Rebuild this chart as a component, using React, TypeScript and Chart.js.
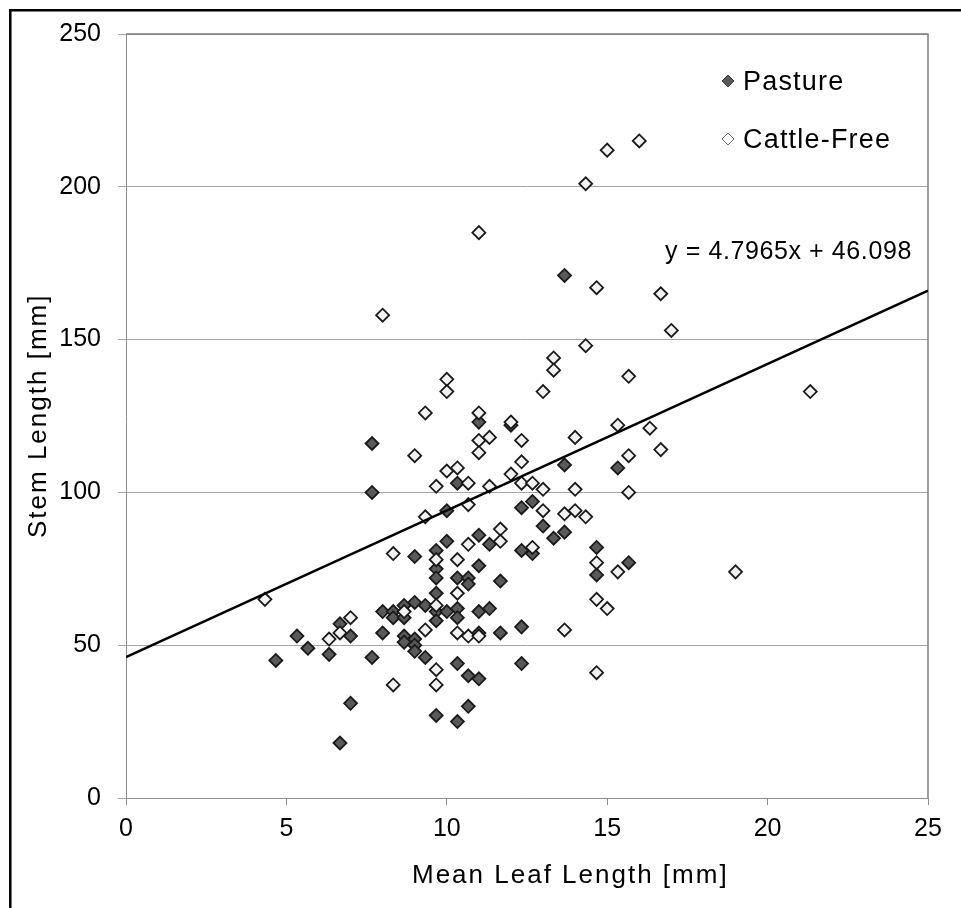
import React, { useEffect, useRef } from 'react';
import { Chart, registerables } from 'chart.js';

Chart.register(...registerables);

// ---- Data ----
const seriesNames = ['Pasture', 'Cattle-Free'];

const pastureX = [
  4.67, 5.33, 5.67, 6.33, 6.67, 6.67, 7, 7, 7.67, 7.67, 7.67, 8, 8, 8.33, 8.33,
  8.67, 8.67, 8.67, 8.67, 9, 9, 9, 9, 9, 9.33, 9.33, 9.67, 9.67, 9.67, 9.67,
  9.67, 9.67, 9.67, 10, 10, 10, 10.33, 10.33, 10.33, 10.33, 10.33, 10.33,
  10.67, 10.67, 10.67, 10.67, 11, 11, 11, 11, 11, 11, 11.33, 11.33, 11.67,
  11.67, 12, 12.33, 12.33, 12.33, 12.33, 12.67, 12.67, 13, 13.33, 13.67, 13.67,
  13.67, 14.67, 14.67, 15.33, 15.67,
];
const pastureY = [
  45, 53, 49, 47, 57, 18, 53, 31, 116, 100, 46, 61, 54, 61, 59,
  63, 59, 53, 51, 79, 64, 52, 50, 48, 63, 46, 81, 75, 72, 67,
  61, 58, 27, 94, 84, 61, 103, 72, 62, 59, 44, 25,
  72, 70, 40, 30, 123, 86, 76, 61, 54, 39, 83, 62, 71,
  54, 122, 95, 81, 56, 44, 97, 80, 89, 85, 171, 109,
  87, 82, 73, 108, 77,
];

const cattleFreeX = [
  4.33, 6.33, 6.67, 7, 8, 8.33, 8.33, 8.67, 9, 9.33, 9.33, 9.33, 9.67, 9.67,
  9.67, 9.67, 9.67, 10, 10, 10, 10.33, 10.33, 10.33, 10.33, 10.67, 10.67,
  10.67, 10.67, 11, 11, 11, 11, 11, 11.33, 11.33, 11.67, 11.67, 12, 12, 12.33,
  12.33, 12.33, 12.67, 12.67, 13, 13, 13, 13.33, 13.33, 13.67, 13.67, 14, 14,
  14, 14.33, 14.33, 14.33, 14.67, 14.67, 14.67, 14.67, 15, 15, 15.33, 15.33,
  15.67, 15.67, 15.67, 16, 16.33, 16.67, 16.67, 17, 19, 21.33,
];
const cattleFreeY = [
  65, 52, 54, 59, 158, 80, 37, 61, 112, 126, 92, 55, 102, 78,
  63, 42, 37, 137, 133, 107, 108, 78, 67, 54, 103, 96,
  83, 53, 185, 126, 117, 113, 53, 118, 102, 88, 84, 123, 106, 117,
  110, 103, 103, 82, 133, 101, 94, 144, 140, 93, 55, 118, 101,
  94, 201, 148, 92, 167, 77, 65, 41, 212, 62, 122, 74,
  138, 112, 100, 215, 121, 165, 114, 153, 74, 133,
];

// Linear trend line as printed on the chart
const trendSlope = 4.7965;
const trendIntercept = 46.098;

const xMin = 0;
const xMax = 25;
const xStep = 5;
const yMin = 0;
const yMax = 250;
const yStep = 50;

const xTitle = 'Mean Leaf Length [mm]';
const yTitle = 'Stem Length [mm]';

const FONT = "'Liberation Sans', Arial, Helvetica, sans-serif";
const PASTURE_FILL = '#595959';
const CATTLE_FILL = '#f2f2f2';

const decorPlugin = {
  id: 'decor',
  beforeDatasetsDraw(chart: any) {
    const { ctx, chartArea: a } = chart;
    ctx.save();
    ctx.strokeStyle = '#7f7f7f';
    ctx.lineWidth = 1.5;
    ctx.beginPath();
    ctx.moveTo(a.left, a.top);
    ctx.lineTo(a.right, a.top);
    ctx.lineTo(a.right, a.bottom);
    ctx.stroke();
    ctx.restore();
  },
  afterDraw(chart: any) {
    const { ctx, chartArea: a } = chart;
    ctx.save();
    // outer frame (left and top edges)
    ctx.strokeStyle = '#000';
    ctx.lineWidth = 2.5;
    ctx.beginPath();
    ctx.moveTo(10.3, 908);
    ctx.lineTo(10.3, 10.3);
    ctx.lineTo(961, 10.3);
    ctx.stroke();

    ctx.fillStyle = '#000';
    ctx.textAlign = 'left';
    ctx.textBaseline = 'alphabetic';

    // axis titles
    ctx.font = `26px ${FONT}`;
    (ctx as any).letterSpacing = '2px';
    ctx.fillText(xTitle, 412, 883);
    ctx.save();
    ctx.translate(46, 538);
    ctx.rotate(-Math.PI / 2);
    ctx.fillText(yTitle, 0, 0);
    ctx.restore();

    // trend equation
    ctx.font = `25px ${FONT}`;
    (ctx as any).letterSpacing = '0.6px';
    ctx.fillText(`y = ${trendSlope}x + ${trendIntercept}`, 665, 259);

    // legend
    const items = [
      { label: seriesNames[0], fill: PASTURE_FILL, stroke: '#3a3a3a', y: 90 },
      { label: seriesNames[1], fill: '#ffffff', stroke: '#6a6a6a', y: 148 },
    ];
    ctx.font = `27px ${FONT}`;
    (ctx as any).letterSpacing = '1.2px';
    items.forEach((it) => {
      const cx = 728;
      const cy = it.y - 9;
      const r = 6;
      ctx.beginPath();
      ctx.moveTo(cx - r, cy);
      ctx.lineTo(cx, cy - r);
      ctx.lineTo(cx + r, cy);
      ctx.lineTo(cx, cy + r);
      ctx.closePath();
      ctx.fillStyle = it.fill;
      ctx.fill();
      ctx.lineWidth = 1;
      ctx.strokeStyle = it.stroke;
      ctx.stroke();
      ctx.fillStyle = '#000';
      ctx.fillText(it.label, 743, it.y);
    });
    (ctx as any).letterSpacing = '0px';
    ctx.restore();
  },
};

export default function App() {
  const canvasRef = useRef<HTMLCanvasElement | null>(null);

  useEffect(() => {
    const canvas = canvasRef.current;
    if (!canvas) return;

    const pasture = pastureX.map((x, i) => ({ x, y: pastureY[i] }));
    const cattle = cattleFreeX.map((x, i) => ({ x, y: cattleFreeY[i] }));
    const trend = [xMin, xMax].map((x) => ({ x, y: trendSlope * x + trendIntercept }));

    const chart = new Chart(canvas, {
      type: 'scatter',
      data: {
        datasets: [
          {
            type: 'line',
            label: 'Trend',
            data: trend,
            borderColor: '#000',
            borderWidth: 2.5,
            pointRadius: 0,
            fill: false,
            order: 0,
          } as any,
          {
            label: seriesNames[1],
            data: cattle,
            pointStyle: 'rectRot',
            pointRadius: 6.5,
            borderWidth: 1.8,
            borderColor: '#1a1a1a',
            backgroundColor: CATTLE_FILL,
            order: 1,
          },
          {
            label: seriesNames[0],
            data: pasture,
            pointStyle: 'rectRot',
            pointRadius: 6.5,
            borderWidth: 1.8,
            borderColor: '#1a1a1a',
            backgroundColor: PASTURE_FILL,
            order: 2,
          },
        ],
      },
      options: {
        responsive: false,
        animation: false,
        devicePixelRatio: 1,
        layout: { padding: { left: 0, top: 34, right: 33, bottom: 0 } },
        plugins: {
          legend: { display: false },
          tooltip: { enabled: false },
          title: { display: false },
        },
        scales: {
          x: {
            type: 'linear',
            position: 'bottom',
            min: xMin,
            max: xMax,
            ticks: {
              stepSize: xStep,
              color: '#000',
              font: { family: FONT, size: 25 },
              padding: 9,
            },
            grid: {
              drawOnChartArea: false,
              drawTicks: true,
              tickLength: 7,
              color: '#8c8c8c',
            },
            border: { display: true, color: '#8c8c8c', width: 1 },
            afterFit: (s: any) => {
              s.height = 110;
            },
          },
          y: {
            type: 'linear',
            min: yMin,
            max: yMax,
            ticks: {
              stepSize: yStep,
              color: '#000',
              font: { family: FONT, size: 25 },
              padding: 17,
            },
            grid: {
              color: '#a6a6a6',
              lineWidth: 1,
              tickLength: 8,
            },
            border: { display: true, color: '#8c8c8c', width: 1 },
            afterFit: (s: any) => {
              s.width = 126;
            },
          },
        },
      },
      plugins: [decorPlugin],
    });

    return () => {
      chart.destroy();
    };
  }, []);

  return (
    <div style={{ position: 'absolute', left: 0, top: 0, width: 961, height: 908, background: '#fff' }}>
      <canvas ref={canvasRef} width={961} height={908} style={{ width: 961, height: 908, display: 'block' }} />
    </div>
  );
}
